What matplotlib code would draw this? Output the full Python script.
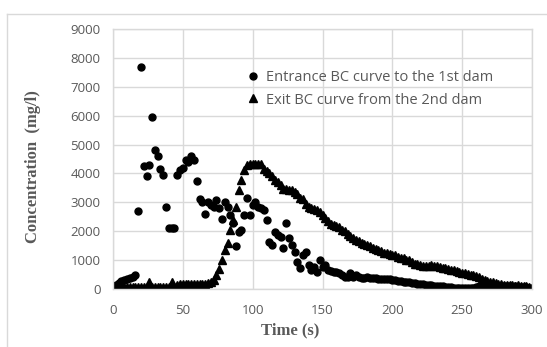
import matplotlib
matplotlib.use("Agg")
import matplotlib.pyplot as plt
from matplotlib.lines import Line2D

# entrance BC curve (1st dam): time (s), concentration (mg/l)
t_in = [0, 2, 4, 6, 8, 10, 12, 14, 16, 18, 20, 22, 24, 26, 28, 30, 32, 34, 36, 38,
        40, 42, 44, 46, 48, 50, 52, 54, 56, 58, 60, 62, 64, 66, 68, 70, 72, 74, 76, 78,
        80, 82, 84, 86, 88, 90, 92, 94, 96, 98, 100, 102, 104, 106, 108, 110, 112, 114, 116, 118,
        120, 122, 124, 126, 128, 130, 132, 134, 136, 138, 140, 142, 144, 146, 148, 150, 152, 154, 156, 158,
        160, 162, 164, 166, 168, 170, 172, 174, 176, 178, 180, 182, 184, 186, 188, 190, 192, 194, 196, 198,
        200, 202, 204, 206, 208, 210, 212, 214, 216, 218, 220, 222, 224, 226, 228, 230, 232, 234, 236, 238,
        240, 242, 244, 246, 248, 250, 252, 254, 256, 258, 260, 262, 264, 266, 268, 270, 272, 274, 276, 278,
        280, 282, 284, 286, 288, 290, 292, 294, 296, 298, 300]
c_in = [50, 150, 220, 260, 300, 330, 380, 420, 500, 2700, 7670, 4250, 3920, 4280, 5940, 4810, 4600, 4150, 3950, 2840,
        2120, 2120, 2120, 3950, 4120, 4180, 4460, 4400, 4600, 4460, 3750, 3100, 3000, 2580, 3000, 2900, 2850, 3080, 2800, 2410,
        3020, 2850, 2560, 2270, 1490, 1980, 2040, 2560, 3140, 2560, 2910, 3020, 2850, 2790, 2730, 2400, 1640, 1520, 1980, 1870,
        1810, 1410, 2270, 1750, 1520, 1290, 950, 720, 1180, 1290, 830, 660, 770, 600, 1000, 770, 830, 660, 640, 600,
        580, 540, 480, 430, 420, 540, 430, 470, 400, 390, 380, 400, 380, 370, 390, 360, 350, 360, 340, 330,
        310, 300, 290, 270, 250, 250, 230, 210, 200, 190, 180, 170, 150, 140, 130, 120, 110, 100, 90, 80,
        70, 60, 50, 40, 30, 30, 20, 20, 30, 50, 70, 90, 110, 100, 90, 100, 110, 100, 90, 100,
        110, 100, 90, 80, 90, 80, 70, 60, 60, 50, 40]

# exit BC curve (2nd dam)
t_out = [0, 2, 4, 6, 8, 10, 12, 14, 16, 18, 20, 22, 24, 26, 28, 30, 32, 34, 36, 38,
         40, 42, 44, 46, 48, 50, 52, 54, 56, 58, 60, 62, 64, 66, 68, 70, 72, 74, 76, 78,
         80, 82, 84, 86, 88, 90, 92, 94, 96, 98, 100, 102, 104, 106, 108, 110, 112, 114, 116, 118,
         120, 122, 124, 126, 128, 130, 132, 134, 136, 138, 140, 142, 144, 146, 148, 150, 152, 154, 156, 158,
         160, 162, 164, 166, 168, 170, 172, 174, 176, 178, 180, 182, 184, 186, 188, 190, 192, 194, 196, 198,
         200, 202, 204, 206, 208, 210, 212, 214, 216, 218, 220, 222, 224, 226, 228, 230, 232, 234, 236, 238,
         240, 242, 244, 246, 248, 250, 252, 254, 256, 258, 260, 262, 264, 266, 268, 270, 272, 274, 276, 278,
         280, 282, 284, 286, 288, 290, 292, 294, 296, 298, 300]
c_out = [50, 60, 70, 80, 80, 80, 80, 80, 80, 80, 80, 80, 80, 250, 80, 80, 80, 80, 80, 80,
         80, 250, 80, 150, 170, 170, 170, 170, 170, 170, 170, 170, 180, 190, 200, 250, 300, 500, 700, 1000,
         1350, 1580, 2040, 2390, 2850, 3420, 3770, 4120, 4290, 4340, 4340, 4340, 4340, 4320, 4150, 4100, 4020, 3900, 3790, 3690,
         3600, 3450, 3450, 3420, 3420, 3370, 3300, 3150, 3100, 2950, 2850, 2800, 2780, 2730, 2650, 2560, 2450, 2350, 2250, 2200,
         2170, 2150, 2050, 2000, 1900, 1820, 1780, 1700, 1650, 1600, 1570, 1530, 1500, 1420, 1380, 1350, 1330, 1260, 1230, 1200,
         1180, 1160, 1120, 1090, 1060, 1020, 1000, 920, 880, 850, 830, 800, 780, 800, 830, 800, 780, 770, 740, 720,
         680, 660, 650, 620, 600, 570, 550, 530, 500, 470, 440, 400, 330, 300, 270, 250, 230, 200, 180, 160,
         140, 130, 140, 130, 120, 130, 120, 110, 100, 80, 40]

labels = ["Entrance BC curve to the 1st dam", "Exit BC curve from the 2nd dam"]
x_ticks = [0, 50, 100, 150, 200, 250, 300]
y_ticks = [0, 1000, 2000, 3000, 4000, 5000, 6000, 7000, 8000, 9000]

grey = "#595959"
grid = "#d9d9d9"

fig = plt.figure(figsize=(5.47, 3.47), dpi=100)
ax = fig.add_axes([113 / 547, 1 - 289 / 347, 419 / 547, 260 / 347])

ax.plot(t_in, c_in, "o", color="black", markersize=5, linestyle="none", label=labels[0])
ax.plot(t_out, c_out, "^", color="black", markersize=5.5, linestyle="none", label=labels[1])

ax.set_xlim(0, 300)
ax.set_ylim(0, 9000)
ax.set_xticks(x_ticks)
ax.set_yticks(y_ticks)
ax.grid(True, color=grid, linewidth=1)
ax.set_axisbelow(True)
for s in ax.spines.values():
    s.set_color(grid)
    s.set_linewidth(1)
ax.tick_params(length=0, labelsize=9.5, labelcolor=grey)
ax.tick_params(axis="x", pad=11)
ax.tick_params(axis="y", pad=9)
for lb in ax.get_xticklabels() + ax.get_yticklabels():
    lb.set_fontfamily("Open Sans")

fig.text(290 / 547, 1 - 330 / 347, "Time (s)", ha="center", va="center",
         family="Liberation Serif", weight="bold", size=12, color=grey)
fig.text(33 / 547, 1 - 167 / 347, "Concentration  (mg/l)", ha="center", va="center",
         rotation=90, family="Liberation Serif", weight="bold", size=12, color=grey)

handles = [Line2D([], [], marker="o", color="black", linestyle="none", markersize=5),
           Line2D([], [], marker="^", color="black", linestyle="none", markersize=5.5)]
leg = ax.legend(handles, labels, loc="upper left", bbox_to_anchor=(240 / 547, 1 - 63 / 347),
                bbox_transform=fig.transFigure, frameon=False, handlelength=0.8,
                handletextpad=0.45, labelspacing=0.5, borderpad=0,
                prop={"family": "Open Sans", "size": 10.5})
for txt in leg.get_texts():
    txt.set_color(grey)

# outer chart border
fig.add_artist(Line2D([7 / 547, 1], [1 - 14 / 347, 1 - 14 / 347], transform=fig.transFigure,
                      color=grid, linewidth=1))
fig.add_artist(Line2D([7 / 547, 7 / 547], [0, 1 - 14 / 347], transform=fig.transFigure,
                      color=grid, linewidth=1))

fig.savefig("out.png", dpi=100)
